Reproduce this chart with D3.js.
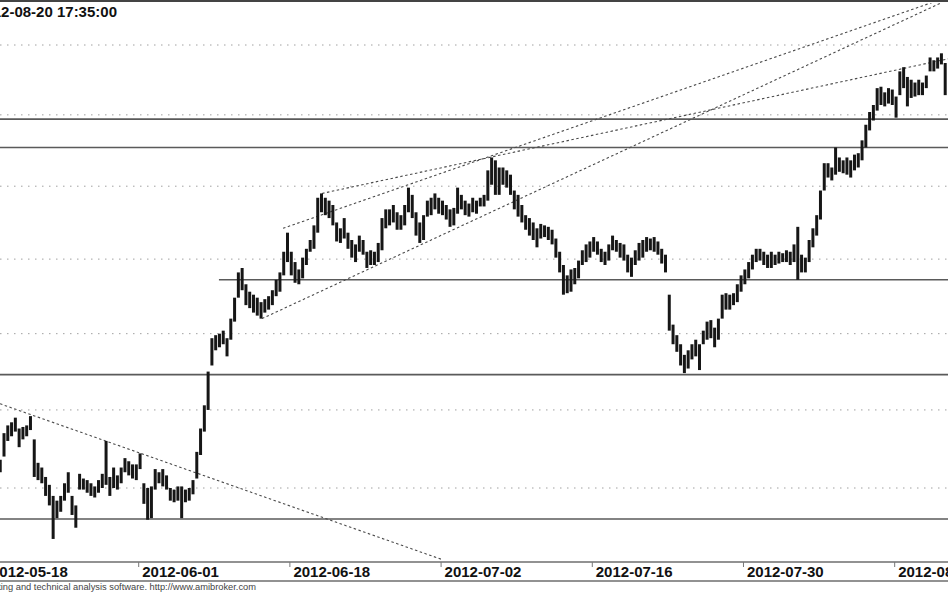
<!DOCTYPE html>
<html><head><meta charset="utf-8">
<script src="https://cdn.jsdelivr.net/npm/d3@7"></script>
<style>html,body{margin:0;padding:0;background:#fff;overflow:hidden}</style>
</head><body>
<svg id="c" width="948" height="593"></svg>
<script>
// ---------- data ----------
const titleText = "2012-08-20 17:35:00";
const footerText = "AmiBroker - advanced charting and technical analysis software. http://www.amibroker.com";
const tickLabels = ["2012-05-18","2012-06-01","2012-06-18","2012-07-02","2012-07-16","2012-07-30","2012-08-13"];
const tickDays = [0,10,20,30,40,50,60];           // trading-day index of each label
const gridPrices = [2100,2150,2200,2250,2300,2350,2400];
const levelPrices = [2347,2327,2236,2173,2080.5];   // horizontal studies
const levelStartDays = [-2,-2,15.34,-2,-2];
const trendStartDays = [0.86,18.19,22.16,19.58];
const trendStartPrices = [2154,2210,2295,2271];
const trendEndDays = [30.16,63.56,63.56,63.56];
const trendEndPrices = [2055,2433,2390,2435];
const barsPerDay = 4;
const firstBarDay = 0.875;
const highs = [
2118,2135,2140,2142,2145,2138,2139,2140,2146,2131,
2116,2113,2107,2102,2095,2092,2095,2103,2110,2095,
2089,2109,2106,2105,2103,2101,2105,2109,2130,2107,
2113,2108,2113,2119,2117,2115,2115,2122,2103,2100,
2101,2112,2110,2112,2108,2100,2099,2101,2101,2099,
2100,2105,2123,2138,2153,2175,2197,2199,2200,2202,
2197,2210,2224,2241,2244,2233,2228,2226,2224,2221,
2223,2225,2229,2236,2241,2255,2268,2255,2248,2243,
2251,2257,2263,2273,2292,2295,2292,2290,2287,2275,
2271,2278,2268,2263,2260,2266,2263,2255,2256,2255,
2261,2278,2284,2284,2287,2282,2280,2287,2299,2294,
2282,2275,2280,2290,2292,2295,2292,2290,2287,2284,
2285,2299,2294,2290,2288,2292,2290,2292,2294,2311,
2320,2318,2313,2313,2311,2308,2297,2294,2287,2280,
2278,2275,2271,2274,2273,2272,2270,2264,2255,2246,
2239,2243,2244,2249,2256,2260,2262,2265,2262,2257,
2255,2260,2266,2263,2261,2260,2253,2251,2256,2261,
2263,2265,2264,2265,2262,2257,2253,2226,2206,2199,
2193,2186,2189,2193,2196,2193,2202,2208,2209,2204,
2210,2226,2227,2226,2227,2233,2239,2243,2248,2253,
2257,2257,2255,2253,2255,2253,2255,2254,2256,2255,
2260,2272,2253,2251,2263,2271,2280,2297,2316,2316,
2313,2327,2320,2318,2320,2318,2322,2323,2332,2343,
2352,2357,2369,2370,2366,2369,2368,2363,2381,2384,
2377,2375,2373,2375,2373,2378,2391,2389,2391,2394,
2387];
const lows = [
2110,2120,2130,2133,2136,2126,2131,2133,2137,2107,
2105,2103,2095,2089,2068,2081,2085,2092,2097,2083,
2075,2099,2099,2097,2095,2094,2097,2100,2102,2095,
2100,2099,2103,2110,2108,2106,2105,2112,2090,2080,
2081,2099,2103,2101,2099,2092,2091,2092,2081,2091,
2092,2096,2106,2121,2136,2150,2179,2189,2191,2193,
2185,2196,2208,2224,2229,2219,2217,2214,2212,2210,
2214,2216,2219,2225,2228,2239,2248,2239,2234,2233,
2237,2246,2255,2257,2268,2282,2280,2278,2273,2262,
2261,2264,2257,2251,2248,2255,2253,2244,2246,2246,
2248,2256,2271,2273,2275,2270,2270,2273,2282,2278,
2266,2261,2263,2279,2280,2284,2281,2280,2277,2272,
2273,2281,2284,2280,2279,2282,2281,2286,2286,2290,
2301,2294,2294,2301,2299,2294,2284,2279,2275,2270,
2266,2263,2258,2264,2265,2263,2260,2251,2241,2226,
2227,2228,2233,2237,2246,2248,2251,2255,2253,2248,
2246,2249,2256,2255,2251,2249,2241,2238,2246,2249,
2251,2255,2256,2255,2253,2247,2241,2202,2193,2188,
2179,2174,2177,2183,2185,2176,2193,2196,2197,2191,
2196,2210,2216,2216,2219,2221,2228,2233,2237,2243,
2248,2249,2246,2244,2244,2246,2247,2248,2248,2246,
2248,2236,2241,2241,2248,2258,2266,2277,2297,2306,
2304,2308,2310,2309,2308,2306,2311,2313,2318,2327,
2339,2346,2353,2357,2356,2358,2357,2348,2364,2369,
2356,2362,2363,2364,2364,2369,2381,2381,2383,2386,
2364];

// ---------- drawing ----------
const W = 948, H = 593;
const plotTop = 3, plotBottom = 562;
const x = d3.scaleLinear().domain([0.86, 63.56]).range([0, W]);
const y = d3.scaleLog().domain([2100, 2400]).range([488, 45]);

const svg = d3.select("#c");
svg.append("rect").attr("width", W).attr("height", H).attr("fill", "#fff");
svg.append("defs").append("clipPath").attr("id", "clip")
  .append("rect").attr("x", 0).attr("y", plotTop).attr("width", W).attr("height", plotBottom - plotTop);

const g = svg.append("g").attr("clip-path", "url(#clip)");

// gridlines
g.selectAll("line.grid").data(gridPrices).join("line").attr("class", "grid")
  .attr("x1", 0).attr("x2", W)
  .attr("y1", d => y(d)).attr("y2", d => y(d))
  .attr("stroke", "#a0a0a0").attr("stroke-width", 1).attr("stroke-dasharray", "1.5,5.5");

// horizontal studies
g.selectAll("line.lvl").data(levelPrices).join("line").attr("class", "lvl")
  .attr("x1", (d, i) => x(levelStartDays[i])).attr("x2", W + 10)
  .attr("y1", d => y(d)).attr("y2", d => y(d))
  .attr("stroke", "#5a5a5a").attr("stroke-width", 1.6);

// trend lines
g.selectAll("line.trend").data(trendStartDays).join("line").attr("class", "trend")
  .attr("x1", (d, i) => x(d)).attr("y1", (d, i) => y(trendStartPrices[i]))
  .attr("x2", (d, i) => x(trendEndDays[i])).attr("y2", (d, i) => y(trendEndPrices[i]))
  .attr("stroke", "#4a4a4a").attr("stroke-width", 1.1).attr("stroke-dasharray", "2.5,2.5");

// price bars
const bars = highs.map((h, i) => ({ day: firstBarDay + i / barsPerDay, hi: h, lo: lows[i] }));
g.selectAll("line.bar").data(bars).join("line").attr("class", "bar")
  .attr("x1", d => x(d.day)).attr("x2", d => x(d.day))
  .attr("y1", d => y(d.hi)).attr("y2", d => y(d.lo))
  .attr("stroke", "#161616").attr("stroke-width", 3);

// top border
svg.append("line").attr("x1", 0).attr("x2", W).attr("y1", 1).attr("y2", 1)
  .attr("stroke", "#444").attr("stroke-width", 2);

// axis band
svg.append("line").attr("x1", 0).attr("x2", W).attr("y1", plotBottom).attr("y2", plotBottom)
  .attr("stroke", "#6e6e6e").attr("stroke-width", 1.6);
svg.append("line").attr("x1", 0).attr("x2", W).attr("y1", 581).attr("y2", 581)
  .attr("stroke", "#6e6e6e").attr("stroke-width", 1.6);

const axis = d3.axisBottom(x).tickValues(tickDays)
  .tickFormat((d, i) => tickLabels[i]).tickSize(5).tickPadding(0);
const ag = svg.append("g").attr("transform", `translate(0,${plotBottom})`).call(axis);
ag.select(".domain").remove();
ag.selectAll(".tick line").attr("stroke", "#777");
ag.selectAll(".tick text")
  .attr("text-anchor", "start").attr("x", 3.5).attr("y", 15).attr("dy", null)
  .attr("fill", "#111")
  .style("font-family", "Liberation Sans, Arial, sans-serif")
  .style("font-size", "15px").style("font-weight", "bold");

// title
svg.append("text").attr("x", 117).attr("y", 17).attr("text-anchor", "end")
  .style("font-family", "Liberation Sans, Arial, sans-serif")
  .style("font-size", "15px").style("font-weight", "bold").attr("fill", "#111")
  .text(titleText);

// footer
svg.append("text").attr("x", 256).attr("y", 590).attr("text-anchor", "end")
  .style("font-family", "Liberation Sans, Arial, sans-serif")
  .style("font-size", "9.3px").attr("fill", "#444")
  .text(footerText);
</script>
</body></html>
